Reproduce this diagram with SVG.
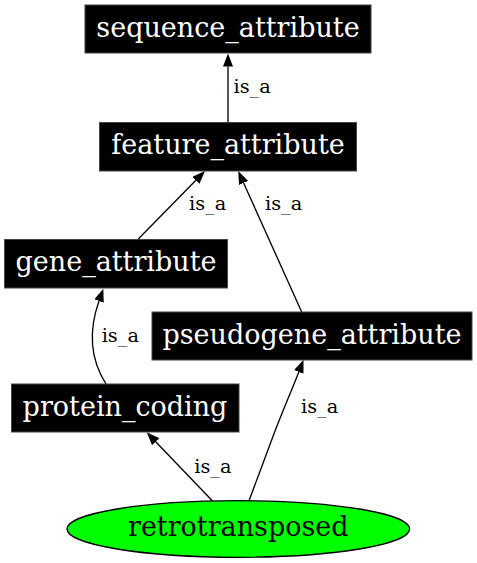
<svg xmlns="http://www.w3.org/2000/svg" width="477" height="563" viewBox="0 0 477 563">
<style>
.box{fill:#000;stroke:#444;stroke-width:1}
.nt{font-family:"DejaVu Serif",serif;font-size:27px;fill:#fff;text-anchor:middle}
.et{font-family:"DejaVu Serif",serif;font-size:19.3px;fill:#000}
.edge{fill:none;stroke:#000;stroke-width:1.33}
</style>
<defs>
<marker id="arr" markerUnits="userSpaceOnUse" viewBox="0 0 13 10" refX="0" refY="5" markerWidth="13" markerHeight="10" orient="auto">
<path d="M0,0 L13,5 L0,10 z" fill="#000"/>
</marker>
</defs>
<rect width="477" height="563" fill="#fff"/>
<g id="connectors">
<path class="edge" marker-end="url(#arr)" d="M228,122 L228,66.5"/>
<path class="edge" marker-end="url(#arr)" d="M138.3,239 L195.9,180.3"/>
<path class="edge" marker-end="url(#arr)" d="M301.7,312 L243.6,182.9"/>
<path class="edge" marker-end="url(#arr)" d="M106,384 C92,362 87,335 99,301"/>
<path class="edge" marker-end="url(#arr)" d="M212.3,500.7 L155.7,441.7"/>
<path class="edge" marker-end="url(#arr)" d="M249.3,500 C255,485 266,455 275,431 C283,410 291,392 298.8,371.9"/>
<text class="et" x="233.5" y="93.3">is_a</text>
<text class="et" x="189" y="210">is_a</text>
<text class="et" x="265" y="210">is_a</text>
<text class="et" x="101.7" y="341.7">is_a</text>
<text class="et" x="194.3" y="472.7">is_a</text>
<text class="et" x="301" y="412.7">is_a</text>
</g>
<g id="sequence_attribute">
<rect class="box" x="85" y="5" width="286" height="48"/>
<text class="nt" x="228" y="37">sequence_attribute</text>
</g>
<g id="feature_attribute">
<rect class="box" x="99.5" y="122.5" width="257" height="48.5"/>
<text class="nt" x="228" y="154">feature_attribute</text>
</g>
<g id="gene_attribute">
<rect class="box" x="4.5" y="239.5" width="223" height="48.5"/>
<text class="nt" x="116" y="271">gene_attribute</text>
</g>
<g id="pseudogene_attribute">
<rect class="box" x="152" y="312" width="320" height="48"/>
<text class="nt" x="312" y="343.5">pseudogene_attribute</text>
</g>
<g id="protein_coding">
<rect class="box" x="11.5" y="384" width="227.5" height="48"/>
<text class="nt" x="125" y="415.5">protein_coding</text>
</g>
<g id="retrotransposed">
<ellipse cx="238.3" cy="529" rx="171.3" ry="28.3" fill="#00ff00" stroke="#000" stroke-width="1.33"/>
<text class="nt" x="238.3" y="536" style="fill:#000">retrotransposed</text>
</g>
</svg>
